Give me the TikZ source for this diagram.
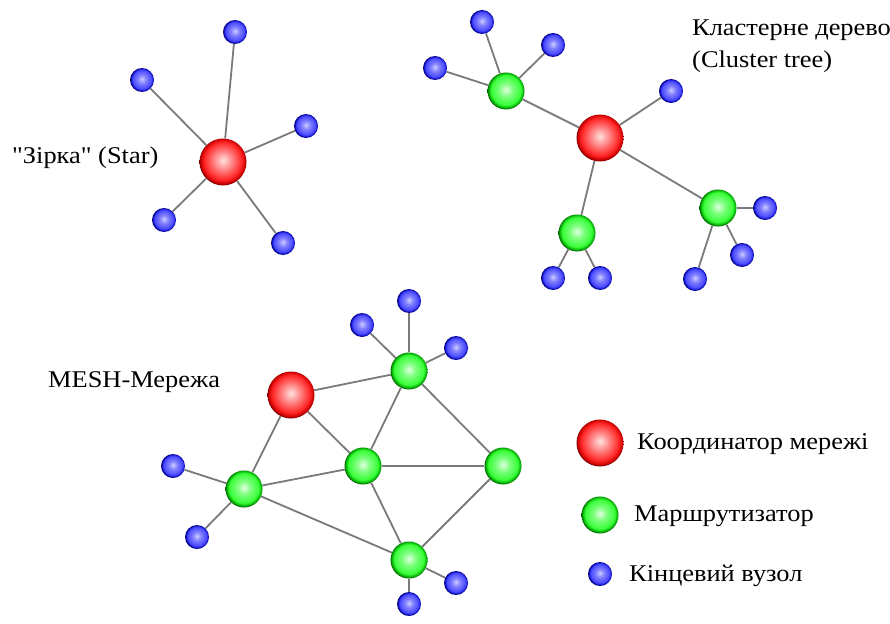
\documentclass[tikz,border=0pt]{standalone}
\usepackage{fontspec}
% plain family: no TeX ligature mapping, so " stays a straight quote
\newfontfamily\capfont{Liberation Serif}[FakeStretch=1.1]
\pgfdeclarelayer{background}
\pgfsetlayers{background,main}

% sphere-like shadings: light centre, saturated body, dark rim
\pgfdeclareradialshading{redball}{\pgfpoint{0bp}{2bp}}{%
  color(0bp)=(red!12!white); color(9bp)=(red!45!white); color(20bp)=(red!85!white);
  color(24bp)=(red!80!black); color(25bp)=(red!50!black); color(50bp)=(red!50!black)}
\pgfdeclareradialshading{greenball}{\pgfpoint{0bp}{2bp}}{%
  color(0bp)=(green!12!white); color(9bp)=(green!50!white); color(20bp)=(green!78!white);
  color(24bp)=(green!65!black); color(25bp)=(green!40!black); color(50bp)=(green!40!black)}
\pgfdeclareradialshading{blueball}{\pgfpoint{0bp}{2bp}}{%
  color(0bp)=(blue!20!white); color(9bp)=(blue!50!white); color(20bp)=(blue!72!white);
  color(24bp)=(blue!70!black); color(25bp)=(blue!45!black); color(50bp)=(blue!45!black)}

\tikzset{
  coordnode/.style={circle, inner sep=0pt, minimum size=47pt, shading=redball},
  routernode/.style={circle, inner sep=0pt, minimum size=37pt, shading=greenball},
  endnode/.style={circle, inner sep=0pt, minimum size=24pt, shading=blueball},
  link/.style={draw=black!52, line width=1.8pt},
  caption/.style={inner sep=0pt, font=\capfont\fontsize{24}{29}\selectfont, text=black},
}

\begin{document}
\begin{tikzpicture}[x=1pt, y=-1pt]
\useasboundingbox (0,0) rectangle (890,623);

% ---------- star topology ----------
\node[coordnode] (sc) at (223,162) {};
\node[endnode] (s1) at (235,32) {};
\node[endnode] (s2) at (142,80) {};
\node[endnode] (s3) at (306,126) {};
\node[endnode] (s4) at (164,220) {};
\node[endnode] (s5) at (283,243) {};
\node[caption, anchor=west] (stxt) at (12,158) {"Зірка" (Star)};

% ---------- cluster tree ----------
\node[coordnode] (tc) at (600,138) {};
\node[routernode] (tr1) at (506,91) {};
\node[routernode] (tr2) at (577,233) {};
\node[routernode] (tr3) at (718,208) {};
\node[endnode] (t1) at (482,22) {};
\node[endnode] (t2) at (553,45) {};
\node[endnode] (t3) at (435,68) {};
\node[endnode] (t4) at (671,91) {};
\node[endnode] (t5) at (553,278) {};
\node[endnode] (t6) at (600,278) {};
\node[endnode] (t7) at (765,208) {};
\node[endnode] (t8) at (742,255) {};
\node[endnode] (t9) at (695,279) {};
\node[caption, anchor=west] (ttxt1) at (692,30) {Кластерне дерево};
\node[caption, anchor=west] (ttxt2) at (692,62) {(Cluster tree)};

% ---------- mesh ----------
\node[coordnode] (mc) at (291,395) {};
\node[routernode] (mt) at (409,371) {};
\node[routernode] (mm) at (363,466) {};
\node[routernode] (mr) at (503,466) {};
\node[routernode] (ml) at (244,489) {};
\node[routernode] (mb) at (409,560) {};
\node[endnode] (m1) at (409,301) {};
\node[endnode] (m2) at (362,325) {};
\node[endnode] (m3) at (456,348) {};
\node[endnode] (m4) at (173,466) {};
\node[endnode] (m5) at (197,537) {};
\node[endnode] (m6) at (456,583) {};
\node[endnode] (m7) at (409,604) {};
\node[caption, anchor=west] (mtxt) at (48,382) {MESH-Мережа};

% ---------- legend ----------
\node[coordnode] (lc) at (600,443) {};
\node[routernode] (lr) at (600,515) {};
\node[endnode] (le) at (600,574) {};
\node[caption, anchor=west] (lctxt) at (637,444) {Координатор мережі};
\node[caption, anchor=west] (lrtxt) at (634,516) {Маршрутизатор};
\node[caption, anchor=west] (letxt) at (629,576) {Кінцевий вузол};

% ---------- links ----------
\begin{pgfonlayer}{background}
  \fill[white] (0,0) rectangle (890,623);
  \foreach \e in {s1,s2,s3,s4,s5} \draw[link] (sc) -- (\e);
  \foreach \r in {tr1,tr2,tr3,t4} \draw[link] (tc) -- (\r);
  \foreach \e in {t1,t2,t3} \draw[link] (tr1) -- (\e);
  \foreach \e in {t5,t6} \draw[link] (tr2) -- (\e);
  \foreach \e in {t7,t8,t9} \draw[link] (tr3) -- (\e);
  \draw[link] (mc) -- (mt);
  \draw[link] (mc) -- (mm);
  \draw[link] (mc) -- (ml);
  \draw[link] (mt) -- (mm);
  \draw[link] (mt) -- (mr);
  \draw[link] (mm) -- (mr);
  \draw[link] (ml) -- (mm);
  \draw[link] (ml) -- (mb);
  \draw[link] (mm) -- (mb);
  \draw[link] (mr) -- (mb);
  \foreach \e in {m1,m2,m3} \draw[link] (mt) -- (\e);
  \foreach \e in {m4,m5} \draw[link] (ml) -- (\e);
  \foreach \e in {m6,m7} \draw[link] (mb) -- (\e);
\end{pgfonlayer}
\end{tikzpicture}
\end{document}
